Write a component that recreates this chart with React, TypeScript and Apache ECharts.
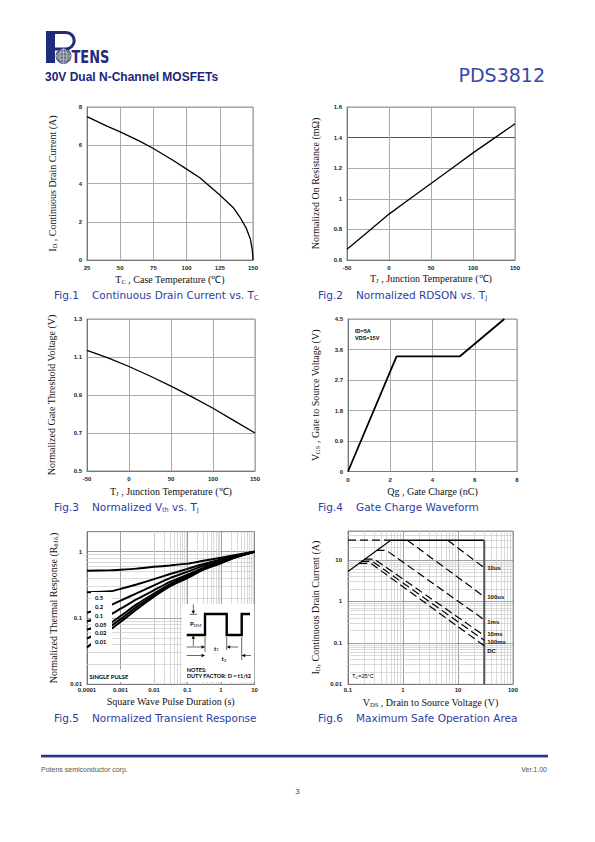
import React, { useEffect, useRef } from 'react';
import * as echarts from 'echarts';

// ---------- Fig.1 Continuous Drain Current vs. Tc ----------
const fig1Temp = [25, 40, 50, 65, 75, 90, 100, 110, 115, 125, 135, 140, 145, 148, 149.5, 150];
const fig1Current = [7.5, 7.0, 6.7, 6.2, 5.83, 5.2, 4.75, 4.3, 4.0, 3.4, 2.75, 2.26, 1.65, 1.1, 0.5, 0];

// ---------- Fig.2 Normalized RDSON vs. Tj ----------
const fig2Temp = [-50, -25, 0, 25, 50, 75, 100, 125, 150];
const fig2Rds = [0.67, 0.785, 0.9, 1.0, 1.1, 1.2, 1.3, 1.395, 1.49];

// ---------- Fig.3 Normalized Vth vs. Tj ----------
const fig3Temp = [-50, -25, 0, 25, 50, 75, 100, 125, 150];
const fig3Vth = [1.135, 1.095, 1.05, 1.0, 0.947, 0.89, 0.83, 0.765, 0.7];

// ---------- Fig.4 Gate Charge Waveform ----------
const fig4Qg = [0, 2.3, 5.3, 7.4];
const fig4Vgs = [0, 3.4, 3.4, 4.5];

// ---------- Fig.5 Normalized Transient Response ----------
const fig5Time = [0.0001, 0.0005, 0.001, 0.003, 0.01, 0.03, 0.1, 0.3, 1, 3, 10];
const fig5D05 = [0.515, 0.525, 0.535, 0.555, 0.59, 0.62, 0.66, 0.73, 0.81, 0.9, 1.0];
const fig5D02 = [0.245, 0.252, 0.275, 0.32, 0.385, 0.46, 0.55, 0.65, 0.76, 0.88, 1.0];
const fig5D01 = [0.12, 0.156, 0.183, 0.235, 0.31, 0.4, 0.5, 0.61, 0.72, 0.86, 1.0];
const fig5D005 = [0.089, 0.113, 0.138, 0.19, 0.262, 0.35, 0.45, 0.57, 0.7, 0.85, 1.0];
const fig5D002 = [0.067, 0.084, 0.107, 0.16, 0.234, 0.325, 0.43, 0.555, 0.69, 0.845, 1.0];
const fig5D001 = [0.049, 0.075, 0.096, 0.147, 0.22, 0.31, 0.42, 0.545, 0.68, 0.84, 1.0];
const fig5Single = [0.036, 0.067, 0.087, 0.135, 0.21, 0.3, 0.4, 0.535, 0.67, 0.835, 1.0];
const fig5DutyLabels = ['0.5', '0.2', '0.1', '0.05', '0.02', '0.01'];
const fig5XTicks = [0.0001, 0.001, 0.01, 0.1, 1, 10];
const fig5XLabels = ['0.0001', '0.001', '0.01', '0.1', '1', '10'];
const fig5YTicks = [0.01, 0.1, 1];
const fig5YLabels = ['0.01', '0.1', '1'];

// ---------- Fig.6 Maximum Safe Operation Area ----------
const soaRdsV = [0.1, 0.6];
const soaRdsI = [5.3, 30];
const soaLimitDashV = [0.1, 0.6];
const soaLimitDashI = [30, 30];
const soaLimitV = [0.6, 30];
const soaLimitI = [30, 30];
const soaVdsMaxV = [30, 30];
const soaVdsMaxI = [30, 0.01];
const soa10usV = [6.5, 30];
const soa10usI = [30, 6.5];
const soa100usV = [1.2, 30];
const soa100usI = [30, 1.3];
const soa1msV = [0.33, 0.5, 30];
const soa1msI = [17, 17, 0.36];
const soa10msV = [0.2, 0.3, 30];
const soa10msI = [10.5, 10.5, 0.15];
const soa100msV = [0.175, 0.28, 30];
const soa100msI = [9.2, 9.2, 0.115];
const soaDcV = [0.16, 0.26, 30];
const soaDcI = [8.3, 8.3, 0.085];
const fig6XTicks = [0.1, 1, 10, 100];
const fig6XLabels = ['0.1', '1', '10', '100'];
const fig6YTicks = [0.01, 0.1, 1, 10];
const fig6YLabels = ['0.01', '0.1', '1', '10'];

// minor log grid positions (2..9 x decade)
const minorLog = (lo: number, hi: number) => {
  const out: number[] = [];
  for (let d = lo; d < hi * 0.999; d *= 10) {
    for (let k = 2; k <= 9; k++) {
      const v = +(k * d).toPrecision(4);
      if (v < hi * 0.999) out.push(v);
    }
  }
  return out;
};
const fig5MinorX = minorLog(0.0001, 10);
const fig5MinorY = minorLog(0.01, 2);
const fig6MinorX = minorLog(0.1, 100);
const fig6MinorY = minorLog(0.01, 50);

const SANS = "'Liberation Sans', Arial, Helvetica, sans-serif";
const SERIF = "'Liberation Serif', 'Times New Roman', serif";
const LATO = "Lato, 'Open Sans', sans-serif";
const DEJAVU = "'DejaVu Sans', Verdana, sans-serif";
const NAVY = '#1f2b7b';
const CAPTION = '#2f3c9f';

const labelStyle = { fontFamily: SANS, fontSize: 6, fontWeight: 'bold', color: '#222' };
const nameStyle = {
  fontFamily: SERIF, fontSize: 10, color: '#111', lineHeight: 12,
  rich: { s: { fontFamily: SERIF, fontSize: 6.5, lineHeight: 6, verticalAlign: 'bottom', color: '#111' } },
};

const logFormatter = (ticks: number[], labels: string[]) => (v: number) => {
  const i = ticks.findIndex((t) => Math.abs(t - v) / t < 1e-6);
  return i >= 0 ? labels[i] : '';
};

const baseAxis = (gridIndex: number, name: string, nameGap: number, margin: number) => ({
  gridIndex,
  name,
  nameLocation: 'middle',
  nameGap,
  nameTextStyle: nameStyle,
  axisLine: { show: true, onZero: false, lineStyle: { color: '#777', width: 1 } },
  axisTick: { show: false },
  axisLabel: { ...labelStyle, margin },
  splitLine: { show: true, lineStyle: { color: '#aaa', width: 1 } },
});

const valueAxis = (gi: number, min: number, max: number, interval: number, name: string, gap: number, margin: number, extra: any = {}) => ({
  ...baseAxis(gi, name, gap, margin),
  type: 'value', min, max, interval,
  ...extra,
});

const logAxis = (gi: number, min: number, max: number, ticks: number[], labels: string[], name: string, gap: number, margin: number) => {
  const b = baseAxis(gi, name, gap, margin);
  return {
    ...b,
    type: 'log', logBase: 10, min, max,
    axisLabel: { ...b.axisLabel, formatter: logFormatter(ticks, labels) },
    splitLine: { show: true, lineStyle: { color: '#888', width: 0.8 } },
  };
};

const pairs = (xs: number[], ys: number[]) => xs.map((x, i) => [x, ys[i]]);

const line = (gi: number, xs: number[], ys: number[], extra: any = {}) => ({
  type: 'line', xAxisIndex: gi, yAxisIndex: gi, data: pairs(xs, ys),
  symbol: 'none', showSymbol: false, silent: true, z: 5,
  lineStyle: { color: '#000', width: 1.3 },
  ...extra,
});

const minorGrid = (gi: number, xs: number[], ys: number[]) => ({
  type: 'line', xAxisIndex: gi, yAxisIndex: gi, data: [], silent: true, z: 1,
  markLine: {
    silent: true, symbol: ['none', 'none'], label: { show: false },
    lineStyle: { color: '#cacaca', width: 0.7, type: 'solid' },
    emphasis: { disabled: true },
    data: [...xs.map((v) => ({ xAxis: v })), ...ys.map((v) => ({ yAxis: v }))],
  },
});

const endLbl = (text: string, dy = 0) => ({
  show: true, formatter: text, fontFamily: SANS, fontSize: 6, fontWeight: 'bold', color: '#111', distance: 3, offset: [0, dy],
});

const dashed = { color: '#000', width: 1.2, type: [8, 4] };

// graphic helpers
const T = (x: number, y: number, text: string, style: any = {}) => ({
  type: 'text', x, y, z: 100, silent: true,
  style: { text, align: 'left', textAlign: 'left', verticalAlign: 'middle', textVerticalAlign: 'middle', fill: '#000', ...style },
});
const R = (x: number, y: number, w: number, h: number, fill: string) => ({
  type: 'rect', z: 99, silent: true, shape: { x, y, width: w, height: h }, style: { fill },
});
const L = (x1: number, y1: number, x2: number, y2: number, stroke = '#000', lw = 0.6) => ({
  type: 'line', z: 101, silent: true, shape: { x1, y1, x2, y2 }, style: { stroke, lineWidth: lw },
});
const P = (pts: number[][]) => ({ type: 'polygon', z: 101, silent: true, shape: { points: pts }, style: { fill: '#000' } });

const capRich = { s: { fontFamily: DEJAVU, fontSize: 6.5, lineHeight: 6, verticalAlign: 'bottom', fill: CAPTION } };
const caption = (x: number, x2: number, y: number, fig: string, title: string) => [
  T(x, y, fig, { fontFamily: DEJAVU, fontSize: 10.5, fill: CAPTION }),
  T(x2, y, title, { fontFamily: DEJAVU, fontSize: 10.5, fill: CAPTION, lineHeight: 13, rich: capRich }),
];

const smallRich = (family: string, size: number) => ({ s: { fontFamily: family, fontSize: size, lineHeight: size * 0.7, verticalAlign: 'bottom', fill: '#000' } });

function buildOption() {
  const grids = [
    { left: 87, top: 107, width: 166, height: 153 },
    { left: 347, top: 107, width: 168, height: 153 },
    { left: 87, top: 319, width: 168, height: 152 },
    { left: 348, top: 319, width: 169, height: 152.5 },
    { left: 87, top: 531.7, width: 167.5, height: 152.6 },
    { left: 348, top: 531, width: 165, height: 153.3 },
  ].map((g) => ({ ...g, show: true, borderColor: '#999', borderWidth: 1, backgroundColor: 'transparent', containLabel: false, outerBoundsMode: 'none' }));

  const fig3Fmt = (v: number) => (Math.round(v * 10) % 2 === 1 ? v.toFixed(1) : '');

  const xAxis = [
    valueAxis(0, 25, 150, 25, 'T{s|C} , Case Temperature (\u2103)', 13, 5),
    valueAxis(1, -50, 150, 50, 'T{s|J} , Junction Temperature (\u2103)', 12, 5),
    valueAxis(2, -50, 150, 50, 'T{s|J} , Junction Temperature (\u2103)', 14, 5),
    valueAxis(3, 0, 8, 2, 'Qg , Gate Charge (nC)', 14, 5),
    logAxis(4, 0.0001, 10, fig5XTicks, fig5XLabels, 'Square Wave Pulse Duration (s)', 11, 3),
    logAxis(5, 0.1, 100, fig6XTicks, fig6XLabels, 'V{s|DS} , Drain to Source Voltage (V)', 12, 3),
  ];
  const yAxis = [
    valueAxis(0, 0, 8, 2, 'I{s|D} , Continuous Drain Current (A)', 29, 5),
    valueAxis(1, 0.6, 1.6, 0.2, 'Normalized On Resistance (m\u03a9)', 26, 5, {
      splitLine: { show: true, lineStyle: { color: ['#aaa', '#aaa', '#aaa', '#aaa', '#555', '#aaa'], width: 1 } },
    }),
    valueAxis(2, 0.5, 1.3, 0.1, 'Normalized Gate Threshold Voltage (V)', 30, 5, {
      axisLabel: { ...labelStyle, margin: 5, formatter: fig3Fmt },
      splitLine: { show: true, lineStyle: { color: ['#aaa', 'rgba(0,0,0,0)'], width: 1 } },
    }),
    valueAxis(3, 0, 4.5, 0.9, 'V{s|GS} , Gate to Source Voltage (V)', 27, 5, {
      axisLabel: { ...labelStyle, margin: 5, formatter: (v: number) => String(+v.toFixed(1)) },
    }),
    logAxis(4, 0.01, 2, fig5YTicks, fig5YLabels, 'Normalized Thermal Response (R{s|\u03b8JA})', 28, 5),
    logAxis(5, 0.01, 50, fig6YTicks, fig6YLabels, 'I{s|D}, Continuous Drain Current (A)', 27, 6),
  ];

  const series: any[] = [
    line(0, fig1Temp, fig1Current),
    line(1, fig2Temp, fig2Rds),
    line(2, fig3Temp, fig3Vth),
    line(3, fig4Qg, fig4Vgs, { lineStyle: { color: '#000', width: 1.8 } }),
    minorGrid(4, fig5MinorX, fig5MinorY),
    ...[fig5D05, fig5D02, fig5D01, fig5D005, fig5D002, fig5D001, fig5Single].map((ys) =>
      line(4, fig5Time, ys, { smooth: 0.2, lineStyle: { color: '#000', width: 2 } })),
    minorGrid(5, fig6MinorX, fig6MinorY),
    line(5, soaRdsV, soaRdsI, { lineStyle: { color: '#000', width: 1.2 } }),
    line(5, soaLimitDashV, soaLimitDashI, { lineStyle: dashed }),
    line(5, soaLimitV, soaLimitI, { lineStyle: { color: '#000', width: 1.5 } }),
    line(5, soaVdsMaxV, soaVdsMaxI, { lineStyle: { color: '#555', width: 2 } }),
    line(5, soa10usV, soa10usI, { lineStyle: dashed, endLabel: endLbl('10us') }),
    line(5, soa100usV, soa100usI, { lineStyle: dashed, endLabel: endLbl('100us') }),
    line(5, soa1msV, soa1msI, { lineStyle: dashed, endLabel: endLbl('1ms', 2) }),
    line(5, soa10msV, soa10msI, { lineStyle: dashed, endLabel: endLbl('10ms', -2) }),
    line(5, soa100msV, soa100msI, { lineStyle: dashed, endLabel: endLbl('100ms', 1.5) }),
    line(5, soaDcV, soaDcI, { lineStyle: dashed, endLabel: endLbl('DC', 5) }),
  ];

  const fig5LabelY = [597.5, 606.3, 615.2, 624, 632.6, 641.5];

  const graphic: any[] = [
    // ---- logo ----
    R(46, 31, 9, 32, NAVY),
    R(55, 31, 11, 3, NAVY),
    R(55, 47.5, 11, 3, NAVY),
    { type: 'arc', z: 100, silent: true, shape: { cx: 66, cy: 40.7, r: 8.2, startAngle: -Math.PI / 2, endAngle: Math.PI / 2, clockwise: true }, style: { stroke: NAVY, lineWidth: 3, fill: null } },
    { type: 'circle', z: 101, silent: true, shape: { cx: 63.5, cy: 56, r: 7.5 }, style: { fill: '#6f7284', stroke: NAVY, lineWidth: 0.8 } },
    { type: 'ellipse', z: 102, silent: true, shape: { cx: 63.5, cy: 56, rx: 3.5, ry: 7.3 }, style: { fill: null, stroke: '#d6d8e2', lineWidth: 0.6 } },
    { type: 'ellipse', z: 102, silent: true, shape: { cx: 63.5, cy: 56, rx: 7.3, ry: 3.5 }, style: { fill: null, stroke: '#d6d8e2', lineWidth: 0.6 } },
    L(63.5, 48.7, 63.5, 63.3, '#d6d8e2', 0.6),
    L(56.2, 56, 70.8, 56, '#d6d8e2', 0.6),
    { ...T(71.5, 57, 'TENS', { fontFamily: DEJAVU, fontSize: 18, fontWeight: 'bold', fill: NAVY }), scaleX: 0.72 },

    // ---- header ----
    T(45, 76.5, '30V Dual N-Channel MOSFETs', { fontFamily: SANS, fontSize: 12, fontWeight: 'bold', fill: '#1c2478' }),
    T(545, 74.5, 'PDS3812', { fontFamily: DEJAVU, fontSize: 19, fill: '#3848a8', align: 'right', textAlign: 'right' }),

    // ---- captions ----
    ...caption(54, 92, 295, 'Fig.1', 'Continuous Drain Current vs. T{s|C}'),
    ...caption(318, 356, 295, 'Fig.2', 'Normalized RDSON vs. T{s|J}'),
    ...caption(54, 92, 507, 'Fig.3', 'Normalized V{s|th} vs. T{s|J}'),
    ...caption(318, 356, 507, 'Fig.4', 'Gate Charge Waveform'),
    ...caption(54, 92, 718, 'Fig.5', 'Normalized Transient Response'),
    ...caption(318, 356, 718, 'Fig.6', 'Maximum Safe Operation Area'),

    // ---- Fig.4 notes ----
    T(355, 330.5, 'ID=5A', { fontFamily: SANS, fontSize: 5.5, fontWeight: 'bold' }),
    T(355, 338.2, 'VDS=15V', { fontFamily: SANS, fontSize: 5.5, fontWeight: 'bold' }),

    // ---- Fig.5 duty factor labels ----
    R(91, 592, 21, 57, '#fff'),
    ...fig5DutyLabels.map((t, i) => T(95, fig5LabelY[i], t, { fontFamily: LATO, fontSize: 5.8, fontWeight: 'bold' })),
    R(88, 669.5, 45, 12.5, '#fff'),
    T(89.5, 676, 'SINGLE PULSE', { fontFamily: LATO, fontSize: 5.8, fontWeight: 'bold' }),

    // ---- Fig.5 inset ----
    R(182, 604, 72.3, 78, '#fff'),
    { type: 'polyline', z: 101, silent: true, shape: { points: [[186.7, 635], [205, 635], [205, 614], [226.7, 614], [226.7, 635], [241.7, 635], [241.7, 614], [250, 614]] }, style: { stroke: '#000', lineWidth: 2.4, fill: null } },
    T(190, 623.5, 'P{s|DM}', { fontFamily: LATO, fontSize: 6, fontWeight: 'bold', lineHeight: 8, rich: smallRich(LATO, 4.5) }),
    L(193.3, 604.5, 193.3, 611.5),
    L(189.5, 614.3, 197, 614.3),
    P([[191.5, 610.8], [195.1, 610.8], [193.3, 614]]),
    L(193.3, 639, 193.3, 646),
    L(189.5, 635.3, 197, 635.3),
    P([[191.5, 638.8], [195.1, 638.8], [193.3, 635.6]]),
    L(205, 637, 205, 652),
    L(226.7, 637, 226.7, 650),
    L(241.7, 637, 241.7, 660),
    L(186.7, 647, 201.5, 647),
    P([[201.5, 645.3], [201.5, 648.7], [205, 647]]),
    L(230.2, 647, 238, 647),
    P([[230.2, 645.3], [230.2, 648.7], [226.7, 647]]),
    T(214, 648, 't{s|1}', { fontFamily: LATO, fontSize: 6, fontWeight: 'bold', lineHeight: 8, rich: smallRich(LATO, 4.5) }),
    L(186.7, 655.5, 201.5, 655.5),
    P([[201.5, 653.8], [201.5, 657.2], [205, 655.5]]),
    L(245.2, 655.5, 251, 655.5),
    P([[245.2, 653.8], [245.2, 657.2], [241.7, 655.5]]),
    T(221.5, 658.5, 't{s|2}', { fontFamily: LATO, fontSize: 6, fontWeight: 'bold', lineHeight: 8, rich: smallRich(LATO, 4.5) }),
    T(186.7, 669.3, 'NOTES:', { fontFamily: LATO, fontSize: 5.6, fontWeight: 'bold' }),
    T(186.7, 675.5, 'DUTY FACTOR: D = t1/t2', { fontFamily: LATO, fontSize: 5.6, fontWeight: 'bold' }),

    // ---- Fig.6 note ----
    T(352, 675.7, 'T{s|C}=25\u00b0C', { fontFamily: SANS, fontSize: 5.5, lineHeight: 7, rich: smallRich(SANS, 4) }),

    // ---- footer ----
    R(41, 754.8, 507, 2.4, '#2a3590'),
    R(41, 757.2, 507, 0.9, '#8d97cf'),
    T(41, 769, 'Potens semiconductor corp.', { fontFamily: SANS, fontSize: 7, fill: '#555' }),
    T(547, 769, 'Ver.1.00', { fontFamily: SANS, fontSize: 7, fill: '#555', align: 'right', textAlign: 'right' }),
    T(297.5, 791, '3', { fontFamily: SANS, fontSize: 8, fill: '#444', align: 'center', textAlign: 'center' }),
  ];

  return {
    animation: false,
    backgroundColor: '#fff',
    grid: grids,
    xAxis,
    yAxis,
    series,
    graphic: { elements: graphic },
  };
}

export default function App() {
  const ref = useRef<HTMLDivElement>(null);
  useEffect(() => {
    if (!ref.current) return;
    const chart = echarts.init(ref.current, null, { renderer: 'svg', width: 595, height: 842 });
    chart.setOption(buildOption() as any);
    return () => chart.dispose();
  }, []);
  return (
    <div
      ref={ref}
      style={{ position: 'absolute', left: 0, top: 0, width: 595, height: 842, background: '#fff' }}
    />
  );
}
